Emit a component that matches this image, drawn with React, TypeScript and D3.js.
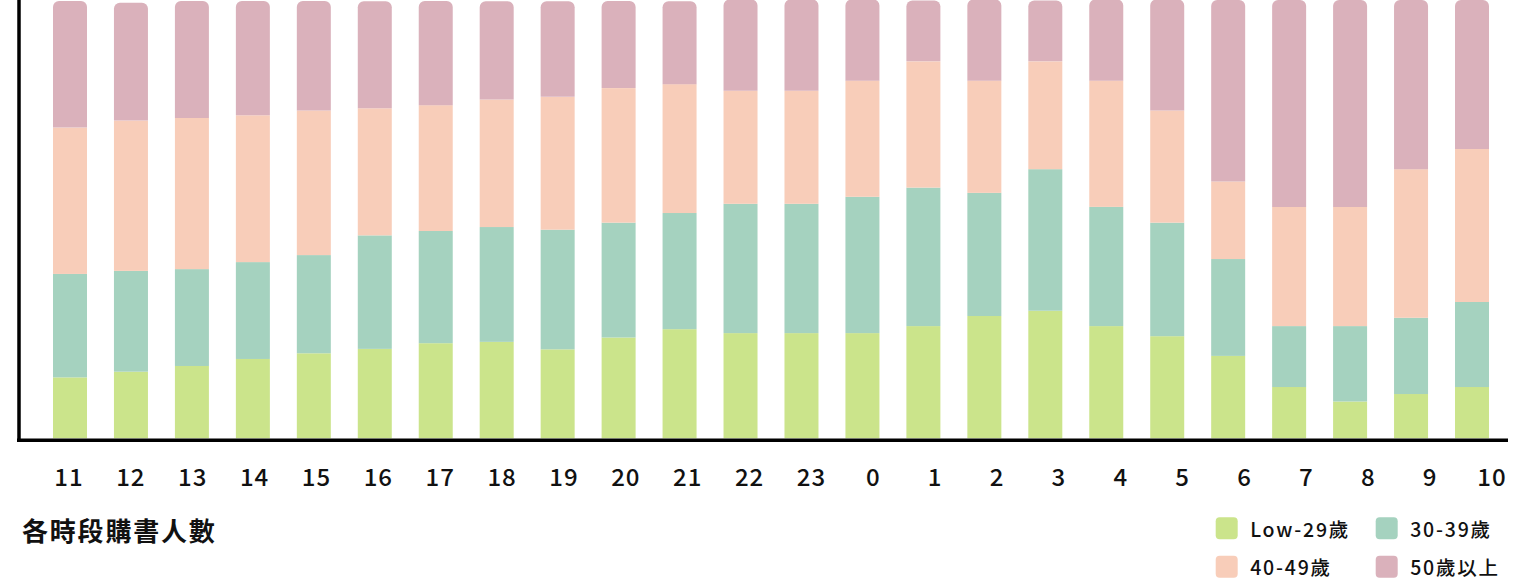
import { useMemo } from "react";
import * as d3 from "d3";

/* ------------------------------------------------------------------ */
/*  Data (share of buyers per age group, by hour, %)                   */
/* ------------------------------------------------------------------ */

const hours = [
  "11", "12", "13", "14", "15", "16", "17", "18", "19", "20", "21", "22",
  "23", "0", "1", "2", "3", "4", "5", "6", "7", "8", "9", "10",
];

const low29 = [
  13.9, 15.2, 16.5, 18.1, 19.4, 20.4, 21.7, 22.0, 20.3, 23.0, 24.9, 24.0,
  24.0, 24.0, 25.6, 27.9, 29.1, 25.6, 23.3, 18.8, 11.7, 8.4, 10.1, 11.7,
];
const age30 = [
  23.6, 23.0, 22.1, 22.1, 22.4, 25.9, 25.6, 26.2, 27.3, 26.2, 26.5, 29.5,
  29.5, 31.1, 31.6, 28.1, 32.3, 27.2, 25.9, 22.1, 13.9, 17.2, 17.4, 19.4,
];
const age40 = [
  33.4, 34.3, 34.5, 33.5, 33.0, 29.0, 28.7, 29.1, 30.3, 30.7, 29.4, 25.8,
  25.8, 26.5, 28.8, 25.6, 24.6, 28.8, 25.6, 17.7, 27.2, 27.2, 33.9, 34.9,
];
const age50 = [
  28.9, 26.9, 26.7, 26.1, 25.0, 24.4, 23.8, 22.4, 21.8, 19.9, 18.9, 20.8,
  20.8, 18.5, 13.9, 18.5, 13.9, 18.5, 25.3, 41.4, 47.2, 47.2, 38.6, 34.0,
];

const seriesKeys = ["low29", "age30", "age40", "age50"];
const seriesLabels = ["Low-29歲", "30-39歲", "40-49歲", "50歲以上"];
const seriesColors = ["#cbe48b", "#a5d2bf", "#f8cdb9", "#dab1bb"];

/* ------------------------------------------------------------------ */
/*  Layout                                                            */
/* ------------------------------------------------------------------ */

const W = 1524;
const H = 581;
const baseY = 438.3;
const font = "'Noto Sans CJK TC', 'Noto Sans', sans-serif";

function roundedTop(x: number, y: number, w: number, h: number, r: number) {
  const rr = Math.min(r, w / 2, h);
  return `M${x},${y + h}V${y + rr}A${rr},${rr} 0 0 1 ${x + rr},${y}H${x + w - rr}A${rr},${rr} 0 0 1 ${x + w},${y + rr}V${y + h}Z`;
}

export default function App() {
  const rows = useMemo(
    () =>
      hours.map((h, i) => ({
        hour: h,
        low29: low29[i],
        age30: age30[i],
        age40: age40[i],
        age50: age50[i],
      })),
    [],
  );

  const stacked = useMemo(() => d3.stack<any>().keys(seriesKeys)(rows), [rows]);

  const x = d3.scaleBand().domain(hours).range([53, 1489]).paddingInner(0.4423).paddingOuter(0);
  const xLabel = d3.scalePoint().domain(hours).range([68.5, 1491.5]);
  const y = d3.scaleLinear().domain([0, 100]).range([baseY, 0]);

  const bw = x.bandwidth();
  const tickSpacing = 1;

  return (
    <>
      <style>{`body{margin:0}`}</style>
      <svg width={W} height={H} viewBox={`0 0 ${W} ${H}`} style={{ display: "block" }}>
        {/* Stacked bars */}
        {stacked.map((layer, li) => (
          <g key={layer.key} fill={seriesColors[li]}>
            {layer.map((d, i) => {
              const x0 = x(hours[i]) ?? 0;
              const y0 = y(d[1]);
              const h = y(d[0]) - y(d[1]);
              if (li === stacked.length - 1) {
                return <path key={i} d={roundedTop(x0, y0, bw, h, 6)} />;
              }
              return <rect key={i} x={x0} y={y0} width={bw} height={h} />;
            })}
          </g>
        ))}

        {/* Axes */}
        <line x1={19} x2={19} y1={0} y2={442} stroke="#000" strokeWidth={3.5} />
        <line x1={17} x2={1508} y1={440.3} y2={440.3} stroke="#000" strokeWidth={3.5} />

        {/* Tick labels */}
        {hours.map((h) => (
          <text
            key={h}
            x={(xLabel(h) ?? 0) + tickSpacing / 2}
            y={486}
            textAnchor="middle"
            fontFamily={font}
            fontSize={24}
            fontWeight={500}
            letterSpacing={tickSpacing}
            fill="#111"
          >
            {h}
          </text>
        ))}

        {/* Title */}
        <text
          x={22}
          y={541}
          fontFamily={font}
          fontSize={26}
          fontWeight={700}
          letterSpacing={1.8}
          fill="#111"
        >
          各時段購書人數
        </text>

        {/* Legend */}
        {seriesLabels.map((label, i) => {
          const col = i % 2;
          const row = Math.floor(i / 2);
          const lx = 1215.7 + col * 160;
          const ly = 517.3 + row * 38.4;
          return (
            <g key={label}>
              <rect x={lx} y={ly} width={22} height={22} rx={4} fill={seriesColors[i]} />
              <text
                x={lx + 34.5}
                y={ly + 11}
                dominantBaseline="central"
                fontFamily={font}
                fontSize={19.5}
                fontWeight={500}
                letterSpacing={1.8}
                fill="#111"
              >
                {label}
              </text>
            </g>
          );
        })}
      </svg>
    </>
  );
}
